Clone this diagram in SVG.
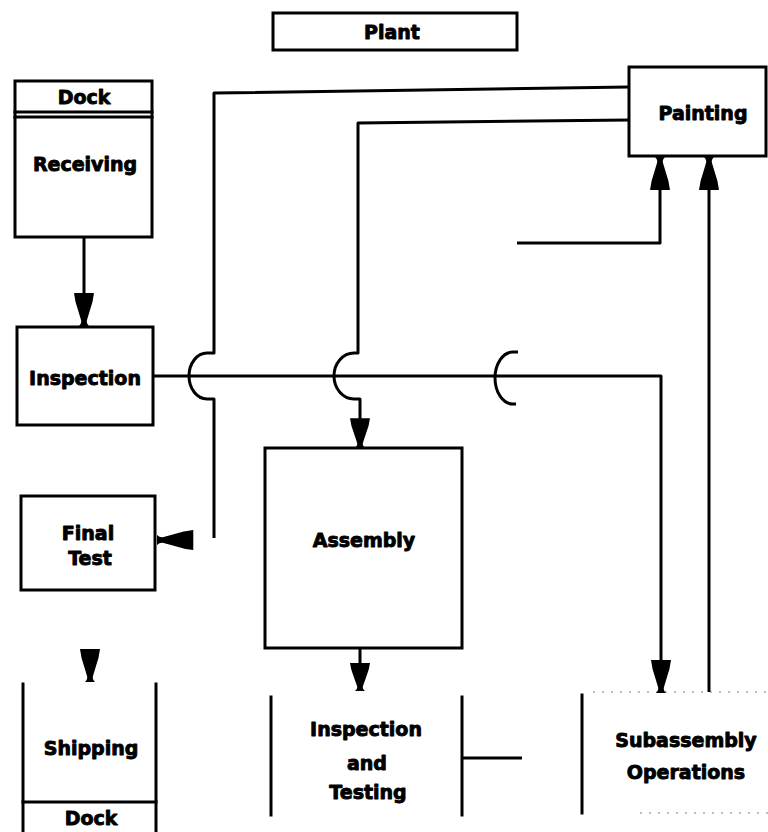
<svg xmlns="http://www.w3.org/2000/svg" xmlns:xlink="http://www.w3.org/1999/xlink" width="768" height="832" viewBox="0 0 768 832">
  <style>
    .box { fill: none; stroke: #000; stroke-width: 3; }
    .edge { fill: none; stroke: #000; stroke-width: 3; stroke-linecap: square; }
    .wire { fill: none; stroke: #000; stroke-width: 3; stroke-linejoin: round; }
    .faint { fill: none; stroke: #aaa; stroke-width: 1.5; stroke-dasharray: 2 7; }
    .lbl { font-family: "DejaVu Sans", "Liberation Sans", sans-serif; font-weight: bold; font-size: 19px; fill: #000; stroke: #000; stroke-width: 0.9; stroke-linejoin: round; text-anchor: middle; dominant-baseline: central; }
  </style>
  <defs>
    <!-- flared arrowhead, pointing down, tip at origin -->
    <path id="ah" d="M-10,-33 H10 Q9,-24 6,-16 L3,-6 Q2,-3 5,0 H-5 Q-2,-3 -3,-6 L-6,-16 Q-9,-24 -10,-33 Z" fill="#000"/>
  </defs>
  <rect width="768" height="832" fill="#fff"/>

  <g id="plant">
    <rect class="box" x="273" y="13" width="244" height="37"/>
    <text class="lbl" x="392" y="32">Plant</text>
  </g>

  <g id="receiving">
    <rect class="box" x="15" y="81" width="137" height="156"/>
    <line class="edge" x1="15" y1="112" x2="152" y2="112" stroke-width="2"/>
    <line class="edge" x1="15" y1="117" x2="152" y2="117" stroke-width="2"/>
    <text class="lbl" x="84" y="97">Dock</text>
    <text class="lbl" x="85" y="164">Receiving</text>
  </g>

  <g id="inspection">
    <rect class="box" x="17" y="327" width="136" height="98"/>
    <text class="lbl" x="85" y="378">Inspection</text>
  </g>

  <g id="final-test">
    <rect class="box" x="21" y="496" width="134" height="94"/>
    <text class="lbl" x="88" y="533">Final</text>
    <text class="lbl" x="90" y="558">Test</text>
  </g>

  <g id="shipping">
    <line class="edge" x1="23" y1="684" x2="23" y2="832"/>
    <line class="edge" x1="156" y1="684" x2="156" y2="832"/>
    <line class="edge" x1="23" y1="802" x2="156" y2="802"/>
    <text class="lbl" x="91" y="748">Shipping</text>
    <text class="lbl" x="91" y="818">Dock</text>
  </g>

  <g id="painting">
    <rect class="box" x="629" y="67" width="137" height="89"/>
    <text class="lbl" x="703" y="113">Painting</text>
  </g>

  <g id="assembly">
    <rect class="box" x="265" y="448" width="197" height="200"/>
    <text class="lbl" x="364" y="540">Assembly</text>
  </g>

  <g id="inspection-testing">
    <line class="edge" x1="271" y1="697" x2="271" y2="815"/>
    <line class="edge" x1="462" y1="697" x2="462" y2="815"/>
    <text class="lbl" x="366" y="729">Inspection</text>
    <text class="lbl" x="367" y="763">and</text>
    <text class="lbl" x="368" y="792">Testing</text>
  </g>

  <g id="subassembly">
    <line class="edge" x1="582" y1="695" x2="582" y2="813"/>
    <line class="faint" x1="593" y1="692" x2="768" y2="692"/>
    <line class="faint" x1="640" y1="813" x2="768" y2="813"/>
    <text class="lbl" x="686" y="740" font-size="20">Subassembly</text>
    <text class="lbl" x="686" y="772" font-size="20">Operations</text>
  </g>

  <g id="connectors">
    <!-- receiving to inspection -->
    <path class="wire" d="M84,237 V296"/>
    <use xlink:href="#ah" href="#ah" transform="translate(84,326)"/>

    <!-- painting to final test, hopping over the inspection line -->
    <path class="wire" d="M629,87 L214,93 V353 H207 A18,23 0 0 0 207,399 H214 V538"/>
    <use xlink:href="#ah" href="#ah" transform="translate(157,540) rotate(90) scale(1,1.1)"/>

    <!-- final test to shipping -->
    <use xlink:href="#ah" href="#ah" transform="translate(90,682)"/>

    <!-- painting to assembly, hopping over the inspection line -->
    <path class="wire" d="M629,120 L358,123 V353 H354 A20,23 0 0 0 354,399 H360 V420"/>
    <use xlink:href="#ah" href="#ah" transform="translate(360,448) scale(1,0.9)"/>

    <!-- third hop on the inspection line -->
    <path class="wire" d="M518,352 H513 A18,26 0 0 0 513,404 H516"/>

    <!-- inspection to subassembly -->
    <path class="wire" d="M153,376 H661 V660"/>
    <use xlink:href="#ah" href="#ah" transform="translate(661,693)"/>

    <!-- assembly to inspection and testing -->
    <path class="wire" d="M360,648 V665"/>
    <use xlink:href="#ah" href="#ah" transform="translate(360,691) scale(1,0.85)"/>

    <!-- inspection and testing side line -->
    <path class="wire" d="M462,758 H522"/>

    <!-- feed into painting from the left -->
    <path class="wire" d="M517,243 H660 V188"/>
    <use xlink:href="#ah" href="#ah" transform="translate(660,157) rotate(180)"/>

    <!-- subassembly to painting -->
    <path class="wire" d="M709,692 V188"/>
    <use xlink:href="#ah" href="#ah" transform="translate(709,157) rotate(180)"/>
  </g>
</svg>
